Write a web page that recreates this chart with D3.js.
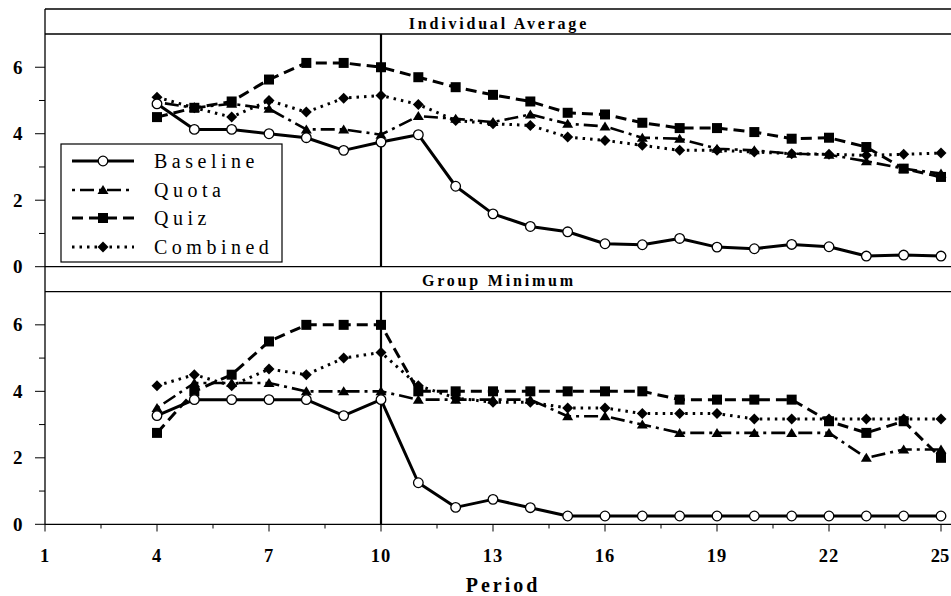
<!DOCTYPE html>
<html><head><meta charset="utf-8">
<script src="https://cdn.jsdelivr.net/npm/d3@7/dist/d3.min.js"></script>
<style>body{margin:0;background:#fff}svg{display:block}</style>
</head><body><svg id="c" width="951" height="596"></svg>
<script>
const periods = [4,5,6,7,8,9,10,11,12,13,14,15,16,17,18,19,20,21,22,23,24,25];
const seriesNames = ["Baseline","Quota","Quiz","Combined"];
const panelTitles = ["Individual Average","Group Minimum"];
const xTickLabels = [1,4,7,10,13,16,19,22,25];
const yTickLabels = [0,2,4,6];

// Individual Average
const baselineAvg = [4.90,4.13,4.13,4.00,3.88,3.50,3.75,3.97,2.42,1.59,1.21,1.05,0.69,0.66,0.85,0.59,0.54,0.67,0.60,0.32,0.35,0.32];
const quotaAvg    = [4.95,4.78,4.90,4.75,4.13,4.13,3.97,4.53,4.45,4.35,4.58,4.30,4.22,3.88,3.85,3.55,3.50,3.40,3.37,3.17,2.95,2.80];
const quizAvg     = [4.50,4.78,4.97,5.63,6.13,6.13,6.00,5.70,5.40,5.17,4.97,4.63,4.58,4.33,4.17,4.17,4.05,3.85,3.88,3.60,2.95,2.70];
const combinedAvg = [5.10,4.78,4.50,5.00,4.65,5.07,5.15,4.88,4.40,4.30,4.25,3.90,3.80,3.65,3.50,3.50,3.45,3.40,3.38,3.35,3.38,3.42];
// Group Minimum
const baselineMin = [3.27,3.75,3.75,3.75,3.75,3.27,3.75,1.25,0.51,0.75,0.50,0.25,0.25,0.25,0.25,0.25,0.25,0.25,0.25,0.25,0.25,0.25];
const quotaMin    = [3.50,4.25,4.25,4.25,4.00,4.00,4.00,3.75,3.75,3.75,3.75,3.25,3.25,3.00,2.75,2.75,2.75,2.75,2.75,2.00,2.25,2.25];
const quizMin     = [2.75,4.00,4.50,5.50,6.00,6.00,6.00,4.00,4.00,4.00,4.00,4.00,4.00,4.00,3.75,3.75,3.75,3.75,3.10,2.75,3.10,2.00];
const combinedMin = [4.17,4.50,4.17,4.67,4.50,5.00,5.17,4.17,3.80,3.67,3.67,3.50,3.50,3.33,3.33,3.33,3.17,3.17,3.17,3.17,3.17,3.17];

const panelData = [
  [baselineAvg, quotaAvg, quizAvg, combinedAvg],
  [baselineMin, quotaMin, quizMin, combinedMin]
];

const svg = d3.select("#c");
const serif = "'Liberation Serif','Times New Roman',serif";
const xL = 45, xR = 952;
const x = d3.scaleLinear().domain([1,25]).range([45,941]);

const styles = [
  {dash:null, w:3, sym:"circle"},
  {dash:"3,5,14,5", w:2.6, sym:"triangle"},
  {dash:"11,6", w:3, sym:"square"},
  {dash:"2.5,5", w:3, sym:"diamond"}
];

function marker(g, type, cx, cy){
  if(type==="circle"){
    g.append("circle").attr("cx",cx).attr("cy",cy).attr("r",4.8)
     .attr("fill","#fff").attr("stroke","#000").attr("stroke-width",1.3);
  } else if(type==="square"){
    g.append("rect").attr("x",cx-5).attr("y",cy-5).attr("width",10).attr("height",10).attr("fill","#000");
  } else if(type==="triangle"){
    g.append("path").attr("d",`M${cx},${cy-5}L${cx+5.5},${cy+4}L${cx-5.5},${cy+4}Z`).attr("fill","#000");
  } else {
    g.append("path").attr("d",`M${cx},${cy-5.5}L${cx+5.5},${cy}L${cx},${cy+5.5}L${cx-5.5},${cy}Z`).attr("fill","#000");
  }
}

const panels = [
  {stripTop:9, plotTop:34, plotBottom:266.7},
  {stripTop:266.7, plotTop:291.6, plotBottom:524.3}
];

panels.forEach((p,pi)=>{
  const y = d3.scaleLinear().domain([0,7]).range([p.plotBottom,p.plotTop]);
  const g = svg.append("g");
  g.append("line").attr("x1",xL).attr("x2",xR).attr("y1",p.stripTop).attr("y2",p.stripTop).attr("stroke","#000").attr("stroke-width",1.3);
  g.append("line").attr("x1",xL).attr("x2",xR).attr("y1",p.plotTop).attr("y2",p.plotTop).attr("stroke","#000").attr("stroke-width",1.3);
  g.append("text").attr("x",(xL+950)/2+1.4).attr("y",p.stripTop+19.5)
    .attr("text-anchor","middle").attr("font-family",serif).attr("font-weight","bold")
    .attr("font-size",16).attr("letter-spacing",2.8).text(panelTitles[pi]);
  d3.range(0,7).forEach(v=>{
    const major = v%2===0;
    g.append("line").attr("x1",major?35:39).attr("x2",xL).attr("y1",y(v)).attr("y2",y(v)).attr("stroke","#000").attr("stroke-width",1);
  });
  yTickLabels.forEach(v=>{
    g.append("text").attr("x",22.5).attr("y",y(v)).attr("dy","0.35em").attr("text-anchor","end")
     .attr("font-family",serif).attr("font-weight","bold").attr("font-size",19).text(v);
  });
  g.append("line").attr("x1",x(10)).attr("x2",x(10)).attr("y1",p.plotTop).attr("y2",p.plotBottom).attr("stroke","#000").attr("stroke-width",2.2);

  [3,2,1,0].forEach(si=>{
    const vals = panelData[pi][si];
    const st = styles[si];
    const line = d3.line().x((d,i)=>x(periods[i])).y(d=>y(d));
    g.append("path").attr("d",line(vals)).attr("fill","none").attr("stroke","#000")
      .attr("stroke-width",st.w).attr("stroke-dasharray",st.dash).attr("stroke-linejoin","round");
    const mg = g.append("g");
    vals.forEach((v,i)=>marker(mg, st.sym, x(periods[i]), y(v)));
  });
});

svg.append("line").attr("x1",xL).attr("x2",xR).attr("y1",524.3).attr("y2",524.3).attr("stroke","#000").attr("stroke-width",1.3);
svg.append("line").attr("x1",xL).attr("x2",xL).attr("y1",9).attr("y2",524.3).attr("stroke","#000").attr("stroke-width",1.3);

d3.range(0,17).forEach(k=>{
  const v = 1 + k*1.5;
  const major = k%2===0;
  svg.append("line").attr("x1",x(v)).attr("x2",x(v)).attr("y1",524.3).attr("y2",major?531.5:528.5).attr("stroke","#000").attr("stroke-width",1);
});
xTickLabels.forEach(v=>{
  svg.append("text").attr("x",v===25 ? x(v)-1 : x(v)).attr("y",562).attr("text-anchor","middle")
    .attr("font-family",serif).attr("font-weight","bold").attr("font-size",18.5).attr("letter-spacing",v===25?0:1).text(v);
});
svg.append("text").attr("x",503).attr("y",592).attr("text-anchor","middle")
  .attr("font-family",serif).attr("font-weight","bold").attr("font-size",20).attr("letter-spacing",3).text("Period");

const lg = svg.append("g");
lg.append("rect").attr("x",61).attr("y",144).attr("width",221).attr("height",118)
  .attr("fill","#fff").attr("stroke","#000").attr("stroke-width",1.2);
const legY = [161,190,218,247];
seriesNames.forEach((n,i)=>{
  const st = styles[i];
  const ly = legY[i];
  lg.append("line").attr("x1",72).attr("x2",134).attr("y1",ly).attr("y2",ly).attr("stroke","#000")
    .attr("stroke-width",st.w).attr("stroke-dasharray",st.dash);
  marker(lg, st.sym, 103, ly);
  lg.append("text").attr("x",154).attr("y",ly).attr("dy","0.33em")
    .attr("font-family",serif).attr("font-size",20).attr("letter-spacing",4.5).text(n);
});
</script></body></html>
